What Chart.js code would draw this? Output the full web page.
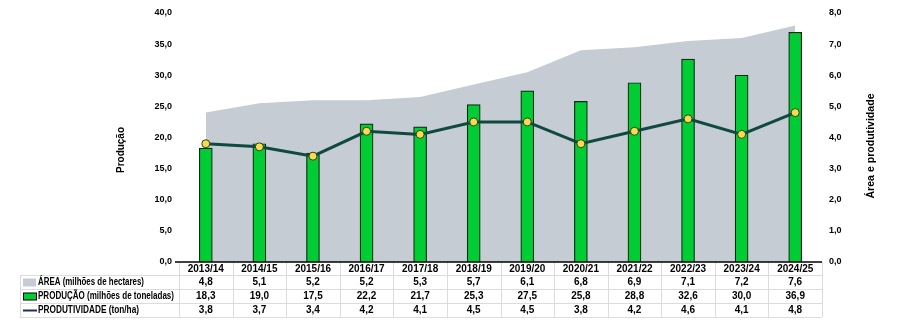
<!DOCTYPE html>
<html>
<head>
<meta charset="utf-8">
<script src="https://cdn.jsdelivr.net/npm/chart.js@4.4.1/dist/chart.umd.min.js"></script>
<style>
  html, body { margin: 0; padding: 0; background: #fff; }
  #wrap { width: 909px; height: 326px; }
</style>
</head>
<body>
<div id="wrap"><canvas id="chart" width="909" height="326"></canvas></div>
<script>
/* ── Data ── */
const categories = ['2013/14', '2014/15', '2015/16', '2016/17', '2017/18', '2018/19',
  '2019/20', '2020/21', '2021/22', '2022/23', '2023/24', '2024/25'];
const areaValues = [4.8, 5.1, 5.2, 5.2, 5.3, 5.7, 6.1, 6.8, 6.9, 7.1, 7.2, 7.6];
const productionValues = [18.3, 19.0, 17.5, 22.2, 21.7, 25.3, 27.5, 25.8, 28.8, 32.6, 30.0, 36.9];
const productivityValues = [3.8, 3.7, 3.4, 4.2, 4.1, 4.5, 4.5, 3.8, 4.2, 4.6, 4.1, 4.8];
const leftTicks = [0, 40, 5];
const rightTicks = [0, 8, 1];

const FONT = '"Liberation Sans", Arial, sans-serif';
const fmt = v => v.toFixed(1).replace('.', ',');

const COLORS = {
  area: '#c6ccd3',
  bar: '#00cc33',
  barBorder: '#0b2a12',
  line: '#0f4a40',
  point: '#f7dc4f',
  legendLine: '#1f2f55',
  tableBorder: '#dcdcdc'
};

// maxW squeezes the labels to the width they take in the reference
const rows = [
  { label: 'ÁREA (milhões de hectares)', values: areaValues, key: 'area', maxW: 106 },
  { label: 'PRODUÇÃO (milhões de toneladas)', values: productionValues, key: 'bar', maxW: 136 },
  { label: 'PRODUTIVIDADE (ton/ha)', values: productivityValues, key: 'line', maxW: 101 }
];

/* ── Data table, titles and base line ── */
const tablePlugin = {
  id: 'dataTable',
  afterDraw(chart) {
    const ctx = chart.ctx;
    const x = chart.scales.x;
    const area = chart.chartArea;
    const colW = (area.right - area.left) / categories.length;
    const headTop = area.bottom, rowTops = [275, 289, 303, 317];
    const tableLeft = 20;

    ctx.save();
    // grid of the table
    ctx.strokeStyle = COLORS.tableBorder;
    ctx.lineWidth = 1;
    rowTops.forEach(y => {
      ctx.beginPath();
      ctx.moveTo(tableLeft, y + 0.5);
      ctx.lineTo(area.right, y + 0.5);
      ctx.stroke();
    });
    for (let i = 0; i <= categories.length; i++) {
      const bx = Math.round(area.left + i * colW) + 0.5;
      ctx.beginPath();
      ctx.moveTo(bx, headTop);
      ctx.lineTo(bx, rowTops[3]);
      ctx.stroke();
    }
    ctx.beginPath();
    ctx.moveTo(tableLeft + 0.5, rowTops[0]);
    ctx.lineTo(tableLeft + 0.5, rowTops[3]);
    ctx.stroke();

    // base line of the plot
    ctx.strokeStyle = '#000';
    ctx.lineWidth = 1.5;
    ctx.beginPath();
    ctx.moveTo(175, area.bottom);
    ctx.lineTo(area.right, area.bottom);
    ctx.stroke();

    // header: category labels
    ctx.fillStyle = '#000';
    ctx.font = 'bold 10px ' + FONT;
    ctx.textAlign = 'center';
    ctx.textBaseline = 'middle';
    categories.forEach((c, i) => {
      ctx.fillText(c, x.getPixelForValue(i), (headTop + rowTops[0]) / 2 + 1);
    });

    // rows
    rows.forEach((row, r) => {
      const cy = (rowTops[r] + rowTops[r + 1]) / 2 + 0.5;
      ctx.textAlign = 'center';
      row.values.forEach((v, i) => ctx.fillText(fmt(v), x.getPixelForValue(i), cy));
      // legend key
      if (row.key === 'area') {
        ctx.fillStyle = COLORS.area;
        ctx.fillRect(23, cy - 4, 13, 8);
      } else if (row.key === 'bar') {
        ctx.fillStyle = COLORS.bar;
        ctx.fillRect(23, cy - 3.5, 13, 7);
        ctx.strokeStyle = '#000';
        ctx.lineWidth = 1;
        ctx.strokeRect(23.5, cy - 3.5, 13, 7);
      } else {
        ctx.strokeStyle = COLORS.legendLine;
        ctx.lineWidth = 2;
        ctx.beginPath();
        ctx.moveTo(23, cy);
        ctx.lineTo(37, cy);
        ctx.stroke();
      }
      ctx.fillStyle = '#000';
      ctx.textAlign = 'left';
      ctx.fillText(row.label, 38, cy, row.maxW);
    });

    // axis titles, both reading bottom to top
    ctx.font = 'bold 11px ' + FONT;
    ctx.textAlign = 'center';
    [['Produção', 121, 150, 46], ['Área e produtividade', 871, 146, 105]].forEach(([t, tx, ty, w]) => {
      ctx.save();
      ctx.translate(tx, ty);
      ctx.rotate(-Math.PI / 2);
      ctx.fillText(t, 0, 0, w);
      ctx.restore();
    });
    ctx.restore();
  }
};

const tickFont = { family: FONT, size: 9, weight: 'bold' };

new Chart(document.getElementById('chart'), {
  type: 'bar',
  data: {
    labels: categories,
    datasets: [
      {
        type: 'line',
        label: 'PRODUTIVIDADE (ton/ha)',
        data: productivityValues,
        yAxisID: 'y1',
        borderColor: COLORS.line,
        borderWidth: 3,
        pointRadius: 4,
        pointBackgroundColor: COLORS.point,
        pointBorderColor: '#3a3a1a',
        pointBorderWidth: 1,
        tension: 0,
        order: 1
      },
      {
        type: 'bar',
        label: 'PRODUÇÃO (milhões de toneladas)',
        data: productionValues,
        yAxisID: 'y',
        backgroundColor: COLORS.bar,
        borderColor: COLORS.barBorder,
        borderWidth: 1.2,
        barThickness: 13,
        order: 2
      },
      {
        type: 'line',
        label: 'ÁREA (milhões de hectares)',
        data: areaValues,
        yAxisID: 'y1',
        backgroundColor: COLORS.area,
        borderWidth: 0,
        pointRadius: 0,
        fill: 'origin',
        tension: 0,
        order: 3
      }
    ]
  },
  options: {
    responsive: false,
    animation: false,
    layout: { padding: { top: 13, bottom: 64, left: 0, right: 0 } },
    plugins: {
      legend: { display: false },
      tooltip: { enabled: false }
    },
    scales: {
      x: { display: false, offset: true },
      y: {
        position: 'left',
        min: leftTicks[0],
        max: leftTicks[1],
        grid: { display: false, drawTicks: false },
        border: { display: false },
        ticks: { stepSize: leftTicks[2], padding: 7, color: '#000', font: tickFont, callback: v => fmt(v) },
        afterFit: s => { s.width = 179; }
      },
      y1: {
        position: 'right',
        min: rightTicks[0],
        max: rightTicks[1],
        grid: { display: false, drawTicks: false },
        border: { display: false },
        ticks: { stepSize: rightTicks[2], padding: 7, color: '#000', font: tickFont, callback: v => fmt(v) },
        afterFit: s => { s.width = 87; }
      }
    }
  },
  plugins: [tablePlugin]
});
</script>
</body>
</html>
